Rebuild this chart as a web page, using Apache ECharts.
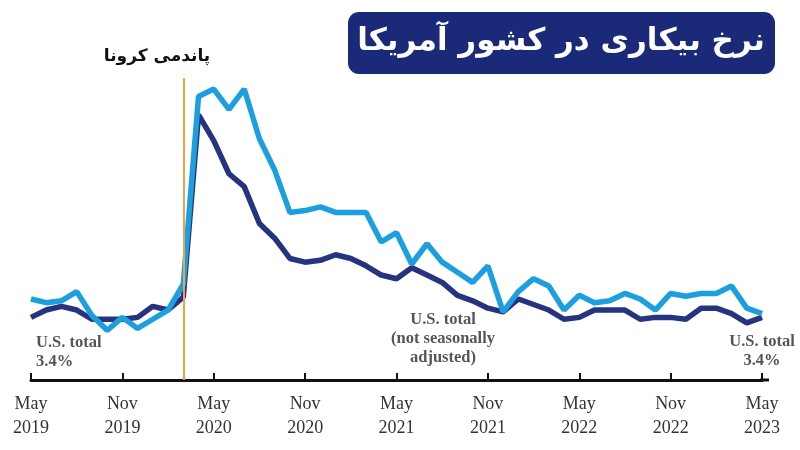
<!DOCTYPE html>
<html>
<head>
<meta charset="utf-8">
<script src="https://cdn.jsdelivr.net/npm/echarts@6/dist/echarts.min.js"></script>
<style>
	html, body {margin: 0; padding: 0; background: #fff;}
	#chart {width: 800px; height: 450px;}
</style>
</head>
<body>
<div id="chart"></div>
<script>
// months May 2019 .. May 2023
let months = [
	'May 2019', 'Jun 2019', 'Jul 2019', 'Aug 2019', 'Sep 2019', 'Oct 2019', 'Nov 2019', 'Dec 2019',
	'Jan 2020', 'Feb 2020', 'Mar 2020', 'Apr 2020', 'May 2020', 'Jun 2020', 'Jul 2020', 'Aug 2020',
	'Sep 2020', 'Oct 2020', 'Nov 2020', 'Dec 2020', 'Jan 2021', 'Feb 2021', 'Mar 2021', 'Apr 2021',
	'May 2021', 'Jun 2021', 'Jul 2021', 'Aug 2021', 'Sep 2021', 'Oct 2021', 'Nov 2021', 'Dec 2021',
	'Jan 2022', 'Feb 2022', 'Mar 2022', 'Apr 2022', 'May 2022', 'Jun 2022', 'Jul 2022', 'Aug 2022',
	'Sep 2022', 'Oct 2022', 'Nov 2022', 'Dec 2022', 'Jan 2023', 'Feb 2023', 'Mar 2023', 'Apr 2023',
	'May 2023'
];
// U.S. total, not seasonally adjusted (dark line)
let usTotal = [
	3.4, 3.8, 4.0, 3.8, 3.3, 3.3, 3.3, 3.4,
	4.0, 3.8, 4.5, 14.4, 13.0, 11.2, 10.5, 8.5,
	7.7, 6.6, 6.4, 6.5, 6.8, 6.6, 6.2, 5.7,
	5.5, 6.1, 5.7, 5.3, 4.6, 4.3, 3.9, 3.7,
	4.4, 4.1, 3.8, 3.3, 3.4, 3.8, 3.8, 3.8,
	3.3, 3.4, 3.4, 3.3, 3.9, 3.9, 3.6, 3.1,
	3.4
];
// second series (light line)
let otherRate = [
	4.4, 4.2, 4.3, 4.8, 3.5, 2.7, 3.4, 2.8,
	3.3, 3.8, 5.2, 15.4, 15.8, 14.7, 15.8, 13.1,
	11.4, 9.1, 9.2, 9.4, 9.1, 9.1, 9.1, 7.5,
	8.0, 6.3, 7.4, 6.4, 5.85, 5.3, 6.2, 3.7,
	4.8, 5.5, 5.1, 3.8, 4.6, 4.2, 4.3, 4.7,
	4.4, 3.8, 4.7, 4.55, 4.7, 4.7, 5.1, 3.9,
	3.6
];
let pandemicMonth = 'Mar 2020';

let chart = echarts.init(document.getElementById('chart'));
let serif = '"Liberation Serif", "DejaVu Serif", serif';
let noteStyle = {
	fontFamily: serif,
	fontWeight: 'bold',
	fontSize: 16.5,
	lineHeight: 19,
	fill: '#555'
};

let option = {
	animation: false,
	backgroundColor: '#fff',
	grid: {
		left: 31,
		right: 38,
		top: 78,
		bottom: 70
	},
	xAxis: {
		type: 'category',
		boundaryGap: false,
		data: months,
		axisLine: {lineStyle: {color: '#111', width: 3}},
		axisTick: {
			interval: 5,
			inside: true,
			length: 7,
			lineStyle: {color: '#111', width: 2}
		},
		axisLabel: {
			interval: 5,
			margin: 12,
			color: '#333',
			fontFamily: serif,
			fontSize: 18,
			lineHeight: 24,
			formatter: function (v) {
				return v.replace(' ', '\n');
			}
		},
		splitLine: {show: false}
	},
	yAxis: {
		type: 'value',
		min: 0,
		max: 16.4,
		show: false
	},
	series: [
		{
			type: 'line',
			name: 'U.S. total',
			data: usTotal,
			showSymbol: false,
			symbol: 'none',
			lineStyle: {color: '#26347f', width: 5.5},
			z: 2,
			markLine: {
				silent: true,
				symbol: 'none',
				label: {show: false},
				lineStyle: {color: '#f2a240', width: 2, type: 'solid'},
				data: [{xAxis: pandemicMonth}]
			}
		},
		{
			type: 'line',
			name: 'state',
			data: otherRate,
			showSymbol: false,
			symbol: 'none',
			lineStyle: {color: '#1c9fdf', width: 5.5},
			z: 3
		}
	],
	graphic: [
		{
			// axis line runs a little past the last tick
			type: 'line',
			shape: {x1: 760, y1: 380, x2: 769, y2: 380},
			style: {stroke: '#111', lineWidth: 3}
		},
		{
			type: 'rect',
			shape: {x: 348, y: 12, width: 427, height: 62, r: 11},
			style: {fill: '#1b2a78'}
		},
		{
			type: 'text',
			x: 561,
			y: 42,
			style: {
				text: 'نرخ بیکاری در کشور آمریکا',
				fill: '#fff',
				fontFamily: '"DejaVu Sans", sans-serif',
				fontWeight: 'bold',
				fontSize: 31,
				align: 'center',
				verticalAlign: 'middle'
			}
		},
		{
			type: 'text',
			x: 157,
			y: 57,
			style: {
				text: 'پاندمی کرونا',
				fill: '#111',
				fontFamily: '"DejaVu Sans", sans-serif',
				fontWeight: 'bold',
				fontSize: 17,
				align: 'center',
				verticalAlign: 'middle'
			}
		},
		{
			type: 'text',
			x: 36,
			y: 333,
			style: Object.assign({text: 'U.S. total\n3.4%', align: 'left'}, noteStyle)
		},
		{
			type: 'text',
			x: 443,
			y: 310,
			style: Object.assign({text: 'U.S. total\n(not seasonally\nadjusted)', align: 'center'}, noteStyle)
		},
		{
			type: 'text',
			x: 762,
			y: 332,
			style: Object.assign({text: 'U.S. total\n3.4%', align: 'center'}, noteStyle)
		}
	]
};
chart.setOption(option);
window.addEventListener('resize', function () {
	chart.resize();
});
</script>
</body>
</html>
